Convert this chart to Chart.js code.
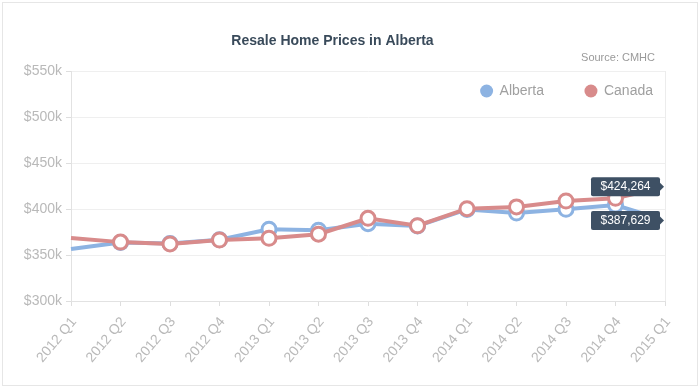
<!DOCTYPE html>
<html>
<head>
<meta charset="utf-8">
<title>Resale Home Prices in Alberta</title>
<script src="https://cdn.jsdelivr.net/npm/chart.js@4.4.1/dist/chart.umd.min.js"></script>
<style>
    html, body { margin: 0; padding: 0; background: #fff; }
    #wrap { width: 700px; height: 388px; }
</style>
</head>
<body>
<div id="wrap"><canvas id="priceChart" width="700" height="388"></canvas></div>
<script>
// Chart data
const quarters = ['2012 Q1', '2012 Q2', '2012 Q3', '2012 Q4', '2013 Q1', '2013 Q2', '2013 Q3',
    '2013 Q4', '2014 Q1', '2014 Q2', '2014 Q3', '2014 Q4', '2015 Q1'];
const albertaPrices = [356500, 363500, 362500, 366500, 378000, 377000, 384000, 381500, 399500, 395600, 399700, 404300, 387629];
const canadaPrices = [368500, 364000, 362000, 366300, 368200, 372600, 389900, 381800, 400300, 402300, 408700, 411600, 424264];
const yTicks = [300000, 350000, 400000, 450000, 500000, 550000];

const FONT = "'Helvetica Neue', Helvetica, Arial, 'Liberation Sans', sans-serif";
const BLUE = '#8db3e2';
const RED = '#d88b8b';

// hide the markers on the first and last quarter
const edgeRadius = ctx => (ctx.dataIndex === 0 || ctx.dataIndex === quarters.length - 1) ? 0 : 7;

// white background + thin frame
const framePlugin = {
    id: 'frame',
    beforeDraw(chart) {
        const ctx = chart.ctx;
        ctx.save();
        ctx.fillStyle = '#fff';
        ctx.fillRect(0, 0, chart.width, chart.height);
        ctx.strokeStyle = '#e6e6e6';
        ctx.lineWidth = 1;
        ctx.strokeRect(2.5, 2.5, chart.width - 5, chart.height - 5);
        ctx.restore();
    }
};

// source note and legend inside the plot
const notesPlugin = {
    id: 'notes',
    afterDraw(chart) {
        const ctx = chart.ctx;
        ctx.save();
        ctx.textBaseline = 'middle';
        ctx.textAlign = 'right';
        ctx.fillStyle = '#9a9a9a';
        ctx.font = '11px ' + FONT;
        ctx.fillText('Source: CMHC', 655, 58);

        ctx.font = '14px ' + FONT;
        ctx.textAlign = 'left';
        let right = 653;
        const sets = chart.data.datasets.slice().reverse();
        sets.forEach(ds => {
            const w = ctx.measureText(ds.label).width;
            const textX = right - w;
            const cx = textX - 13;
            ctx.fillStyle = ds.borderColor;
            ctx.beginPath();
            ctx.arc(cx, 91, 6.5, 0, Math.PI * 2);
            ctx.fill();
            ctx.fillStyle = '#a0a0a0';
            ctx.fillText(ds.label, textX, 91);
            right = cx - 47;
        });
        ctx.restore();
    }
};

// value flags on the last quarter
const endLabelPlugin = {
    id: 'endLabels',
    afterDatasetsDraw(chart) {
        const ctx = chart.ctx;
        ctx.save();
        chart.data.datasets.forEach((ds, i) => {
            const meta = chart.getDatasetMeta(i);
            const pt = meta.data[meta.data.length - 1];
            const value = ds.data[ds.data.length - 1];
            const text = '$' + value.toLocaleString('en-US');
            const w = 69, h = 19;
            const right = pt.x - 5;
            ctx.fillStyle = '#3e5064';
            ctx.beginPath();
            ctx.roundRect(right - w, pt.y - h / 2, w, h, 2);
            ctx.fill();
            ctx.beginPath();
            ctx.moveTo(right, pt.y - 4);
            ctx.lineTo(pt.x - 1, pt.y);
            ctx.lineTo(right, pt.y + 4);
            ctx.closePath();
            ctx.fill();
            ctx.fillStyle = '#fff';
            ctx.font = '12px ' + FONT;
            ctx.textAlign = 'center';
            ctx.textBaseline = 'middle';
            ctx.fillText(text, right - w / 2, pt.y + 0.5);
        });
        ctx.restore();
    }
};

Chart.defaults.font.family = FONT;

// lines stop where the value flags begin
const lineClip = { left: 4, top: 4, right: -5, bottom: 4 };

new Chart(document.getElementById('priceChart'), {
    type: 'line',
    data: {
        labels: quarters,
        datasets: [{
            label: 'Alberta',
            data: albertaPrices,
            borderColor: BLUE,
            backgroundColor: BLUE,
            borderWidth: 4,
            tension: 0,
            clip: lineClip,
            pointRadius: edgeRadius,
            pointBorderWidth: 3,
            pointBackgroundColor: '#fff',
            pointBorderColor: BLUE,
            order: 1
        }, {
            label: 'Canada',
            data: canadaPrices,
            borderColor: RED,
            backgroundColor: RED,
            borderWidth: 4,
            tension: 0,
            clip: lineClip,
            pointRadius: edgeRadius,
            pointBorderWidth: 3,
            pointBackgroundColor: '#fff',
            pointBorderColor: RED,
            order: 0
        }]
    },
    options: {
        responsive: false,
        animation: false,
        events: [],
        layout: { padding: { left: 0, right: 35, top: 0, bottom: 0 } },
        plugins: {
            legend: { display: false },
            tooltip: { enabled: false },
            title: {
                display: true,
                text: 'Resale Home Prices in Alberta',
                color: '#394a5a',
                font: { size: 14, weight: 'bold' },
                padding: { top: 32.6, bottom: 21.6 }
            }
        },
        scales: {
            x: {
                offset: false,
                grid: {
                    color: ctx => ctx.index === quarters.length - 1 ? '#ececec' : 'rgba(0,0,0,0)',
                    tickColor: '#dedede',
                    tickLength: 5
                },
                border: { color: '#e2e2e2' },
                ticks: {
                    color: '#b9b9b9',
                    font: { size: 14 },
                    minRotation: 50,
                    maxRotation: 50,
                    autoSkip: false,
                    padding: 8,
                    labelOffset: 3
                },
                afterFit(scale) { scale.height = 87; }
            },
            y: {
                min: yTicks[0],
                max: yTicks[yTicks.length - 1],
                ticks: {
                    stepSize: 50000,
                    color: '#b9b9b9',
                    font: { size: 14 },
                    padding: 4,
                    callback: v => '$' + (v / 1000) + 'k'
                },
                grid: { color: '#efefef', tickColor: '#dedede', tickLength: 5 },
                border: { color: '#e2e2e2' },
                afterFit(scale) { scale.width = 71; }
            }
        }
    },
    plugins: [framePlugin, notesPlugin, endLabelPlugin]
});
</script>
</body>
</html>
